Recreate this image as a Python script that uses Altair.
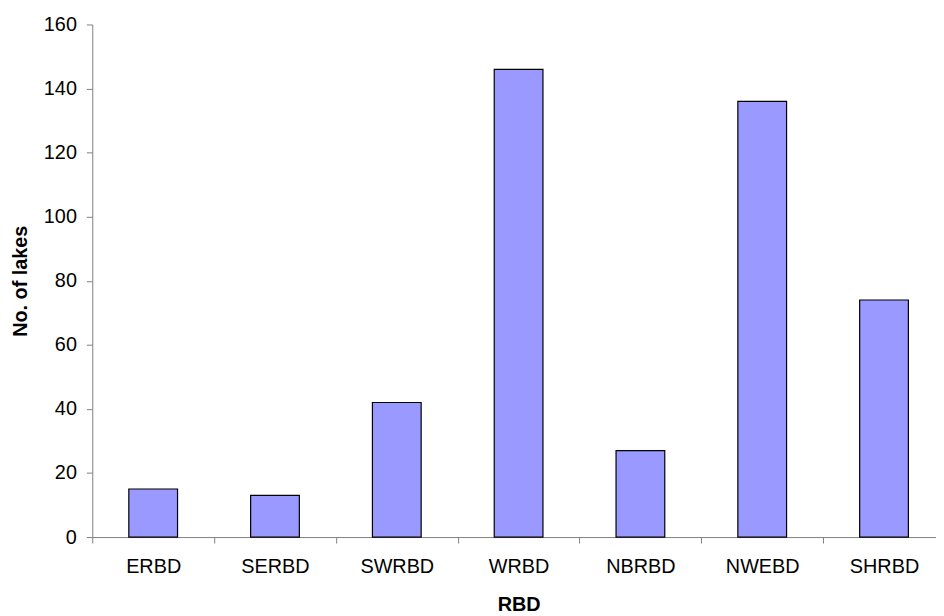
import altair as alt
import pandas as pd

categories = ["ERBD", "SERBD", "SWRBD", "WRBD", "NBRBD", "NWEBD", "SHRBD"]
lakes = [15, 13, 42, 146, 27, 136, 74]
y_ticks = [0, 20, 40, 60, 80, 100, 120, 140, 160]

df = pd.DataFrame({"RBD": categories, "lakes": lakes})

FONT = "Liberation Sans"
RANGE = 860
step = RANGE / len(categories)

chart = (
    alt.Chart(df)
    .mark_bar(color="#9999FF", stroke="#000000", strokeWidth=1.2)
    .encode(
        x=alt.X(
            "RBD:N",
            sort=categories,
            scale=alt.Scale(range=[0, RANGE], paddingInner=0.6, paddingOuter=0.3),
            axis=alt.Axis(
                title="RBD",
                labelAngle=0,
                labelFont=FONT,
                labelFontSize=20,
                labelColor="#000000",
                labelPadding=14,
                tickOffset=-step / 2,
                labelOffset=step / 2,
                tickSize=6,
                tickColor="#808080",
                domainColor="#808080",
                titleFont=FONT,
                titleFontSize=20,
                titleFontWeight="bold",
                titleColor="#000000",
                titleX=RANGE / 2,
                titleY=74,
                titleBaseline="alphabetic",
                titleAlign="center",
            ),
        ),
        y=alt.Y(
            "lakes:Q",
            scale=alt.Scale(domain=[0, 160], nice=False),
            axis=alt.Axis(
                values=y_ticks,
                title="No. of lakes",
                grid=False,
                labelFont=FONT,
                labelFontSize=20,
                labelColor="#000000",
                labelPadding=10,
                tickSize=6,
                tickColor="#808080",
                domainColor="#808080",
                titleFont=FONT,
                titleFontSize=20,
                titleFontWeight="bold",
                titleColor="#000000",
                titleAngle=270,
                titleX=-66,
                titleY=258.5,
                titleBaseline="alphabetic",
                titleAlign="center",
            ),
        ),
    )
    .properties(
        width=851,
        height=517,
        autosize=alt.AutoSizeParams(type="none"),
        padding={"left": 85, "top": 14, "right": 0, "bottom": 77},
    )
    .configure_view(stroke=None)
)

chart.save("out.html", embed_options={"renderer": "svg", "actions": False})
